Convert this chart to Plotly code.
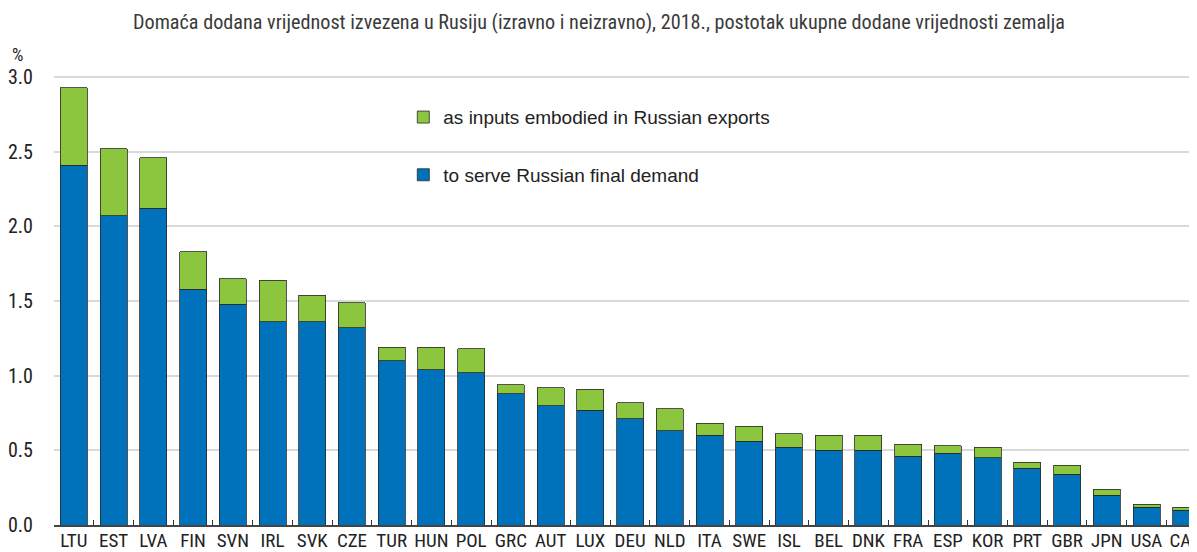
import plotly.graph_objects as go

countries = ["LTU", "EST", "LVA", "FIN", "SVN", "IRL", "SVK", "CZE", "TUR", "HUN",
             "POL", "GRC", "AUT", "LUX", "DEU", "NLD", "ITA", "SWE", "ISL", "BEL",
             "DNK", "FRA", "ESP", "KOR", "PRT", "GBR", "JPN", "USA", "CAN"]
final_demand = [2.41, 2.07, 2.12, 1.58, 1.48, 1.36, 1.36, 1.32, 1.10, 1.04,
                1.02, 0.88, 0.80, 0.77, 0.71, 0.63, 0.60, 0.56, 0.52, 0.50,
                0.50, 0.46, 0.48, 0.45, 0.38, 0.34, 0.20, 0.12, 0.10]
totals = [2.93, 2.52, 2.46, 1.83, 1.65, 1.64, 1.54, 1.49, 1.19, 1.19,
          1.18, 0.94, 0.92, 0.91, 0.82, 0.78, 0.68, 0.66, 0.61, 0.60,
          0.60, 0.54, 0.53, 0.52, 0.42, 0.40, 0.24, 0.14, 0.12]
embodied = [round(t - f, 3) for t, f in zip(totals, final_demand)]
y_ticks = [0.0, 0.5, 1.0, 1.5, 2.0, 2.5, 3.0]

title_text = ("Domaća dodana vrijednost izvezena u Rusiju (izravno i neizravno), 2018., "
              "postotak ukupne dodane vrijednosti zemalja")

NARROW = "Liberation Sans Narrow, Arial Narrow, Roboto Condensed, Liberation Sans, Arial, sans-serif"
REGULAR = "Liberation Sans, Arial, Helvetica, sans-serif"

blue = "rgb(0,114,188)"
green = "rgb(140,198,63)"
edge = "rgb(40,40,40)"

fig = go.Figure()
fig.add_trace(go.Bar(
    x=countries, y=final_demand, name="to serve Russian final demand",
    marker=dict(color=blue, line=dict(color=edge, width=0.8)),
    legendgroup="b", legendrank=2, width=0.68,
))
fig.add_trace(go.Bar(
    x=countries, y=embodied, name="as inputs embodied in Russian exports",
    marker=dict(color=green, line=dict(color=edge, width=0.8)),
    legendgroup="g", legendrank=1, width=0.68,
))

fig.update_layout(
    width=1197, height=552,
    barmode="stack",
    plot_bgcolor="white", paper_bgcolor="white",
    margin=dict(l=46, r=8, t=67, b=35, autoexpand=False),
    title=dict(text=title_text, x=0.4937, xanchor="center", y=0.975, yanchor="middle",
               font=dict(family=NARROW, size=20.2, color="#3a3a3a")),
    legend=dict(x=0.3056, y=0.9484, xanchor="left", yanchor="top",
                traceorder="grouped", tracegroupgap=30,
                font=dict(family=REGULAR, size=19, color="#222"),
                bgcolor="rgba(0,0,0,0)"),
    xaxis=dict(range=[-0.5, 28.27], tickangle=0, automargin=False,
               tickfont=dict(family=NARROW, size=19, color="#222"),
               ticks="inside", tickson="boundaries", ticklen=5, tickcolor="#333",
               ticklabelstandoff=-3,
               showline=True, linecolor="#444", linewidth=1.5, showgrid=False),
    yaxis=dict(range=[0, 3.014], tickvals=y_ticks, ticktext=[f"{v:.1f}" for v in y_ticks],
               automargin=False,
               tickfont=dict(family=NARROW, size=20, color="#222"),
               showgrid=True, gridcolor="#d9d9d9", gridwidth=2,
               zeroline=False, ticks="", ticklabelstandoff=20),
    annotations=[dict(text="%", xref="paper", yref="paper", x=-0.0315, y=1.046,
                      xanchor="center", yanchor="middle", showarrow=False,
                      font=dict(family=NARROW, size=18, color="#222"))],
    bargap=0.32,
)

fig.write_html("out.html")
